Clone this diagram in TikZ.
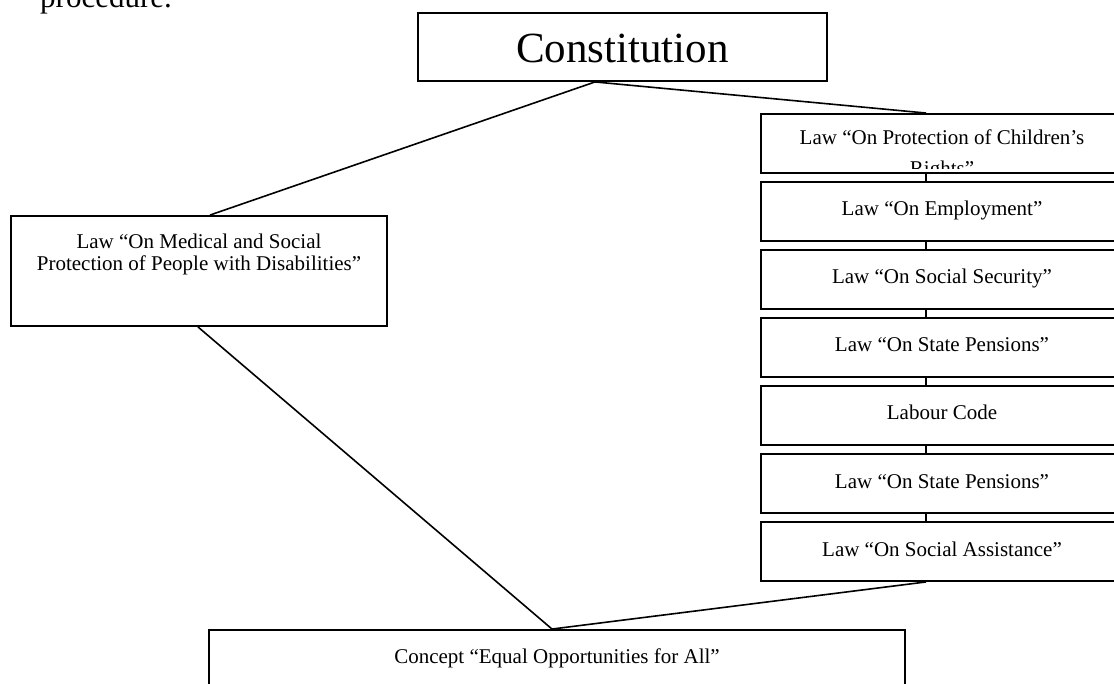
\documentclass[tikz,border=0pt]{standalone}
\usepackage{fontspec}
\setmainfont{Liberation Serif}
\usetikzlibrary{positioning}

\tikzset{
  lawbox/.style={draw, rectangle, line width=1.9pt, inner sep=0pt, align=center,
    font=\fontsize{21}{22}\selectfont},
  rbox/.style={minimum width=362pt, text height=34pt, text depth=25pt},
  link/.style={line width=1.6pt},
}

\begin{document}
\begin{tikzpicture}[x=1pt, y=-1pt, node distance=7.1pt]
            \clip (0,0) rectangle (1114,684);

            \node[anchor=base west, inner sep=0pt, font=\fontsize{31}{36}\selectfont] (proc) at (40,8) {procedure.};

            \node[lawbox, minimum width=409pt, text height=50pt, text depth=18pt, font=\fontsize{43}{48}\selectfont] (const) at (622.5,47) {Constitution};

            \node[lawbox, minimum width=376pt, text height=33pt, text depth=77pt] (disab) at (199,271) {\begin{tabular}[t]{@{}c@{}}Law “On Medical and Social\\Protection of People with Disabilities”\end{tabular}};

            \node[lawbox, rbox] (r1) at (942,143.5) {};
            \node[lawbox, rbox, below=of r1] (r2) {Law “On Employment”};
            \node[lawbox, rbox, below=of r2] (r3) {Law “On Social Security”};
            \node[lawbox, rbox, below=of r3] (r4) {Law “On State Pensions”};
            \node[lawbox, rbox, below=of r4] (r5) {Labour Code};
            \node[lawbox, rbox, below=of r5] (r6) {Law “On State Pensions”};
            \node[lawbox, rbox, below=of r6] (r7) {Law “On Social Assistance”};

            \begin{scope}
              \clip (r1.north west) rectangle ([yshift=5pt]r1.south east);
              \node[anchor=base, inner sep=0pt, align=center, font=\fontsize{21}{31}\selectfont] (r1t) at ([yshift=-31pt]r1.north) {\begin{tabular}[t]{@{}c@{}}Law “On Protection of Children’s\\Rights”\end{tabular}};
            \end{scope}

            \node[lawbox, minimum width=696pt, text height=33pt, text depth=47pt] (concept) at (557,670) {Concept “Equal Opportunities for All”};

            \draw[link] ([xshift=-27.5pt]const.south) -- ([xshift=11pt]disab.north);
            \draw[link] ([xshift=-27.5pt]const.south) -- ([xshift=-16pt]r1.north);
            \foreach \a/\b in {r1/r2, r2/r3, r3/r4, r4/r5, r5/r6, r6/r7}
              \draw[link] ([xshift=-16pt]\a.south) -- ([xshift=-16pt]\b.north);
            \draw[link] ([xshift=-1pt]disab.south) -- ([xshift=-5pt]concept.north);
            \draw[link] ([xshift=-16pt]r7.south) -- ([xshift=-5pt]concept.north);
        \end{tikzpicture}
\end{document}
